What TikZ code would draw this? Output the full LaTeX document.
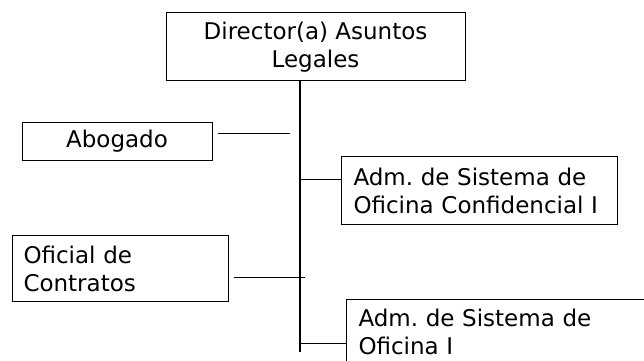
\documentclass[tikz,border=0pt]{standalone}
\usepackage{fontspec}
\setmainfont{DejaVu Sans}
\frenchspacing

\begin{document}
\begin{tikzpicture}[x=1pt, y=-1pt,
    cargo/.style={draw, line width=1pt, inner sep=0pt, font=\fontsize{23}{28}\selectfont},
    enlace/.style={line width=1pt},
    tronco/.style={line width=1.6pt}]
  \useasboundingbox (0,0) rectangle (644,360);
  \node[cargo, minimum width=299, minimum height=68, align=center] (dir) at (315.5,46)
    {\strut Director(a) Asuntos\\Legales};
  \node[cargo, minimum width=190, minimum height=38] (abo) at (117,141) {Abogado};
  \node[cargo, anchor=north west, minimum height=68, text width=252, inner xsep=12, align=left]
    (conf) at (341,156) {Adm. de Sistema de\\Oficina Confidencial I};
  \node[cargo, anchor=north west, minimum height=66, text width=194, inner xsep=11, align=left]
    (ofi) at (12,235) {Oficial de\\Contratos};
  \node[cargo, anchor=north west, minimum height=64, text width=280, inner xsep=12, align=left]
    (ofiI) at (346,299) {Adm. de Sistema de\\Oficina I};

  \coordinate (fin) at (300,352);
  \draw[tronco] (dir.south -| fin) -- (fin);

  \coordinate (ja) at (290,133);
  \draw[enlace] ([xshift=5pt, yshift=8pt]abo.east) -- (ja);
  \coordinate (jo) at (305,277);
  \draw[enlace] (jo -| ofi.east) ++(5,0) -- (jo);
  \coordinate (jc) at ([yshift=11pt]conf.west);
  \draw[enlace] (jc -| fin) -- (jc);
  \coordinate (ji) at (346,343);
  \draw[enlace] (ji -| fin) -- (ji);
\end{tikzpicture}
\end{document}
